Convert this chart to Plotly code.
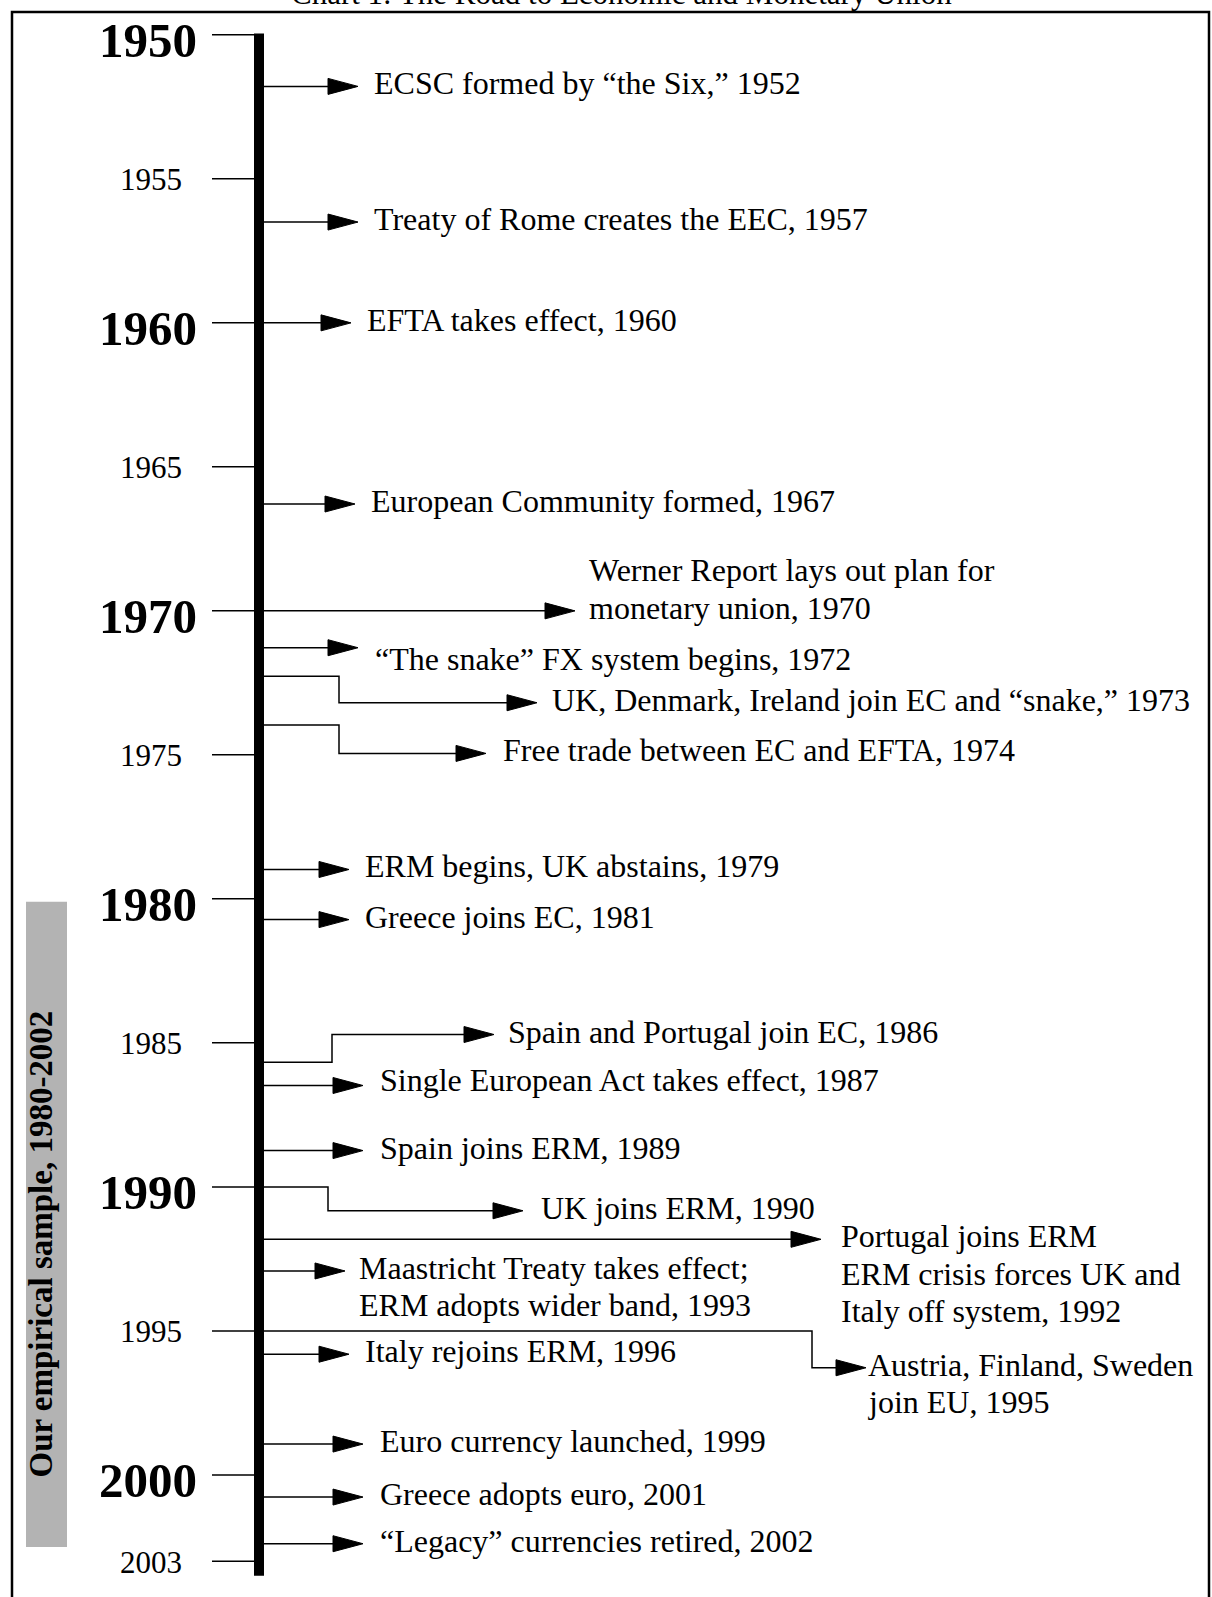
import plotly.graph_objects as go

# --- data -------------------------------------------------------------
tick_years = [1950, 1955, 1960, 1965, 1970, 1975, 1980, 1985, 1990, 1995, 2000, 2003]
major_years = [1950, 1960, 1970, 1980, 1990, 2000]
sample_years = [1980, 2002]
sample_label = "Our empirical sample, 1980-2002"
title_text = "Chart 1: The Road to Economic and Monetary Union"

event_labels = [
    ["ECSC formed by “the Six,” 1952"],
    ["Treaty of Rome creates the EEC, 1957"],
    ["EFTA takes effect, 1960"],
    ["European Community formed, 1967"],
    ["Werner Report lays out plan for", "monetary union, 1970"],
    ["“The snake” FX system begins, 1972"],
    ["UK, Denmark, Ireland join EC and “snake,” 1973"],
    ["Free trade between EC and EFTA, 1974"],
    ["ERM begins, UK abstains, 1979"],
    ["Greece joins EC, 1981"],
    ["Spain and Portugal join EC, 1986"],
    ["Single European Act takes effect, 1987"],
    ["Spain joins ERM, 1989"],
    ["UK joins ERM, 1990"],
    ["Portugal joins ERM", "ERM crisis forces UK and", "Italy off system, 1992"],
    ["Maastricht Treaty takes effect;", "ERM adopts wider band, 1993"],
    ["Austria, Finland, Sweden", "join EU, 1995"],
    ["Italy rejoins ERM, 1996"],
    ["Euro currency launched, 1999"],
    ["Greece adopts euro, 2001"],
    ["“Legacy” currencies retired, 2002"],
]
# where each arrow sits along the timeline (years)
event_pos = [1951.79, 1956.50, 1960.0, 1966.29, 1970.0, 1971.28, 1973.19, 1974.95,
             1978.98, 1980.72, 1984.71, 1986.48, 1988.74, 1990.83, 1991.82, 1992.92,
             1996.28, 1995.81, 1998.93, 2000.77, 2002.39]
# where an elbow connector leaves the bar (None = straight arrow)
branch_pos = [None, None, None, None, None, None, 1972.27, 1973.96,
              None, None, 1985.67, None, None, 1990.0, None, None,
              1995.0, None, None, None, None]

# --- layout helpers ----------------------------------------------------
W, H = 1212, 1597
Y_TOP, Y_BOTTOM = 1948.79, 2004.24
PX = H / (Y_BOTTOM - Y_TOP)          # pixels per year
FONT = "Liberation Serif, Times New Roman, serif"
BAR_X = 259
TICK_X0 = 212
HEAD_LEN = 30
HEAD_HALF = 8 / PX
LINE_STEP = 37.5
TEXT_SIZE = 32

tip_x = [358, 358, 351, 355, 575, 358, 537, 486, 349, 349, 494, 363, 363, 523,
         821, 345, 866, 349, 363, 363, 363]
text_x = [372, 372, 365, 369, 587, 373, 550, 501, 363, 363, 506, 378, 378, 539,
          839, 357, 866, 363, 378, 378, 378]
elbow_x = [None] * 6 + [339, 339] + [None] * 2 + [332] + [None] * 2 + [328] + \
          [None] * 2 + [812] + [None] * 4
anchor_first = [True] * len(event_labels)
anchor_first[4] = False
label_dy = [-3] * len(event_labels)
label_dy[5] = 11
label_dy[11] = -6

fig = go.Figure()

# ticks
tx, ty = [], []
for yr in tick_years:
    tx += [TICK_X0, BAR_X, None]
    ty += [yr, yr, None]
fig.add_trace(go.Scatter(x=tx, y=ty, mode="lines", line=dict(color="black", width=1.5),
                         hoverinfo="skip"))

# connectors and heads
lx, ly, hx, hy = [], [], [], []
for i, pos in enumerate(event_pos):
    end = tip_x[i] - HEAD_LEN
    if branch_pos[i] is None:
        lx += [BAR_X, end, None]
        ly += [pos, pos, None]
    else:
        lx += [BAR_X, elbow_x[i], elbow_x[i], end, None]
        ly += [branch_pos[i], branch_pos[i], pos, pos, None]
    hx += [end, tip_x[i], end, end, None]
    hy += [pos - HEAD_HALF, pos, pos + HEAD_HALF, pos - HEAD_HALF, None]
fig.add_trace(go.Scatter(x=lx, y=ly, mode="lines", line=dict(color="black", width=1.5),
                         hoverinfo="skip"))
fig.add_trace(go.Scatter(x=hx, y=hy, mode="lines", fill="toself", fillcolor="black",
                         line=dict(color="black", width=1), hoverinfo="skip"))

# main bar
fig.add_trace(go.Scatter(x=[BAR_X, BAR_X], y=[tick_years[0] - 0.05, tick_years[-1] + 0.5],
                         mode="lines", line=dict(color="black", width=10), hoverinfo="skip"))

ann = []
for yr in tick_years:
    major = yr in major_years
    ann.append(dict(x=199 if major else 184, y=yr, xref="x", yref="y", xanchor="right",
                    yanchor="middle", yshift=-6 if major else -1, showarrow=False,
                    text=f"<b>{yr}</b>" if major else str(yr),
                    font=dict(family=FONT, size=49 if major else 31, color="black")))

for i, lines in enumerate(event_labels):
    n = len(lines)
    for j, line in enumerate(lines):
        k = j if anchor_first[i] else j - (n - 1)
        ann.append(dict(x=text_x[i], y=event_pos[i], xref="x", yref="y", xanchor="left",
                        yanchor="middle", yshift=-(k * LINE_STEP + label_dy[i]),
                        showarrow=False, text=line,
                        font=dict(family=FONT, size=TEXT_SIZE, color="black")))

ann.append(dict(x=41, y=1992.0, xref="x", yref="y", textangle=-90, showarrow=False,
                text=f"<b>{sample_label}</b>", font=dict(family=FONT, size=33, color="black")))
ann.append(dict(x=621 / W, y=1, xref="paper", yref="paper", xanchor="center",
                yanchor="bottom", yshift=-13, showarrow=False, text=title_text,
                font=dict(family=FONT, size=31, color="black")))

shapes = [
    dict(type="rect", xref="x", yref="y", x0=26, x1=67,
         y0=sample_years[0] + 0.1, y1=sample_years[1] + 0.5,
         fillcolor="#b3b3b3", line=dict(width=0), layer="below"),
    dict(type="rect", xref="paper", yref="paper", x0=12 / W, x1=1209 / W,
         y0=-0.02, y1=1 - 12 / H, line=dict(color="black", width=2.5)),
]

fig.update_layout(
    width=W, height=H, margin=dict(l=0, r=0, t=0, b=0),
    paper_bgcolor="white", plot_bgcolor="white", showlegend=False,
    xaxis=dict(range=[0, W], visible=False, fixedrange=True),
    yaxis=dict(range=[Y_BOTTOM, Y_TOP], visible=False, fixedrange=True),
    annotations=ann, shapes=shapes,
)

fig.write_html("out.html", config={"displayModeBar": False},
               post_script="document.body.style.margin='0';")
